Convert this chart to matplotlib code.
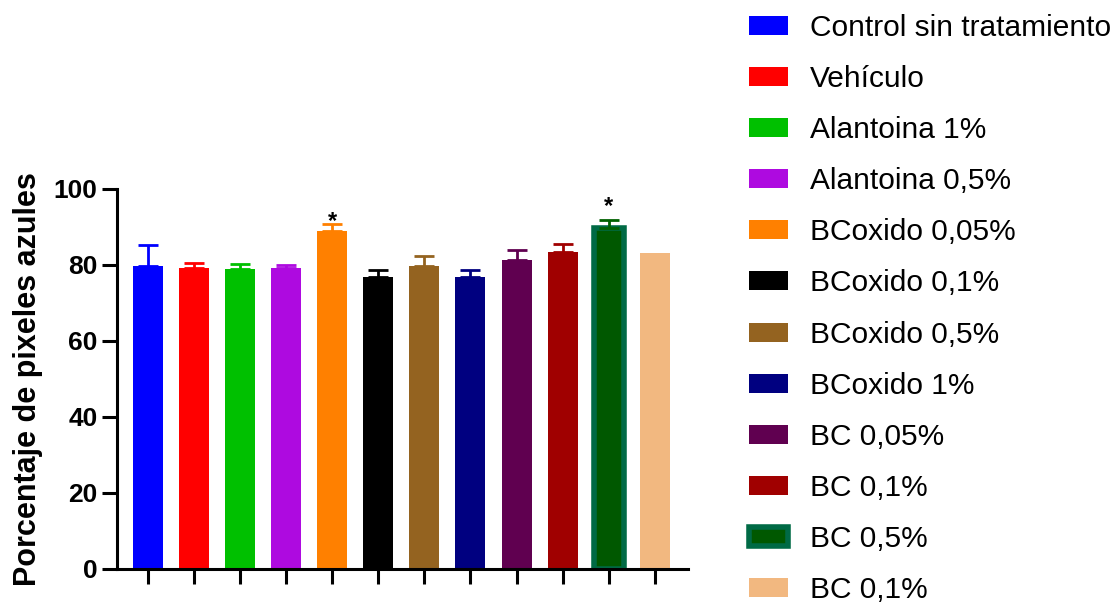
import matplotlib
matplotlib.use("Agg")
import matplotlib.pyplot as plt
from matplotlib.patches import Patch

plt.rcParams['font.family'] = ['Liberation Sans', 'DejaVu Sans']

# Group names, mean values, upward SEM, and colours
groups = ["Control sin tratamiento", "Vehículo", "Alantoina 1%", "Alantoina 0,5%",
          "BCoxido 0,05%", "BCoxido 0,1%", "BCoxido 0,5%", "BCoxido 1%",
          "BC 0,05%", "BC 0,1%", "BC 0,5%", "BC 0,1%"]
means = [79.8, 79.1, 78.9, 79.1, 88.9, 76.9, 79.8, 76.8, 81.4, 83.3, 89.8, 83.2]
errors = [5.4, 1.3, 1.3, 1.0, 2.0, 1.8, 2.7, 1.8, 2.5, 2.1, 2.0, 0.0]
fill_colors = ["#0000FF", "#FF0000", "#00C000", "#AE0AE0", "#FF8000", "#000000",
               "#946320", "#000080", "#600050", "#A00000", "#005800", "#F2B880"]
edge_colors = ["#0000FF", "#FF0000", "#00C000", "#AE0AE0", "#FF8000", "#000000",
               "#946320", "#000080", "#600050", "#A00000", "#006A45", "#F2B880"]
# Significance marks: (group index, height of the asterisk)
stars = [(4, 91.4), (10, 95.3)]
y_ticks = [0, 20, 40, 60, 80, 100]

fig = plt.figure(figsize=(11.19, 6.07), dpi=100)
ax = fig.add_axes([117 / 1119, 1 - 569 / 607, (688 - 117) / 1119, (569 - 189) / 607])

x = list(range(len(groups)))
bar_w = 0.65
for i in x:
    lw = 4 if edge_colors[i] != fill_colors[i] else 0
    ax.bar(i, means[i], width=bar_w, color=fill_colors[i],
           edgecolor=edge_colors[i], linewidth=lw, zorder=2)
    if errors[i] > 0:
        ax.errorbar(i, means[i], yerr=[[0], [errors[i]]], fmt="none",
                    ecolor=edge_colors[i] if i != 10 else "#006000",
                    elinewidth=2, capsize=7.5, capthick=2, clip_on=False, zorder=3)

for i, h in stars:
    ax.text(i, h, "*", ha="center", va="center", fontsize=17,
            fontweight="bold", color="black", zorder=4)

ax.set_xlim(-0.67, 11.72)
ax.set_ylim(0, 100)
ax.set_yticks(y_ticks)
ax.set_yticklabels([str(v) for v in y_ticks], fontsize=19, fontweight="bold")
ax.set_xticks(x)
ax.set_xticklabels([])
for side in ("top", "right"):
    ax.spines[side].set_visible(False)
for side in ("left", "bottom"):
    ax.spines[side].set_linewidth(2.2)
ax.tick_params(axis="both", direction="out", length=11, width=2.2, pad=3)
ax.set_ylabel("Porcentaje de pixeles azules", fontsize=22, fontweight="bold", labelpad=8)

handles = [Patch(facecolor=fill_colors[i], edgecolor=edge_colors[i],
                 linewidth=4 if edge_colors[i] != fill_colors[i] else 0)
           for i in x]
fig.legend(handles, groups, loc="upper left", bbox_to_anchor=(737 / 1119, 0.997),
           frameon=False, fontsize=21.5, handlelength=1.3, handleheight=0.6,
           handletextpad=0.75, labelspacing=0.775, borderaxespad=0)

fig.savefig("out.png", dpi=100)
